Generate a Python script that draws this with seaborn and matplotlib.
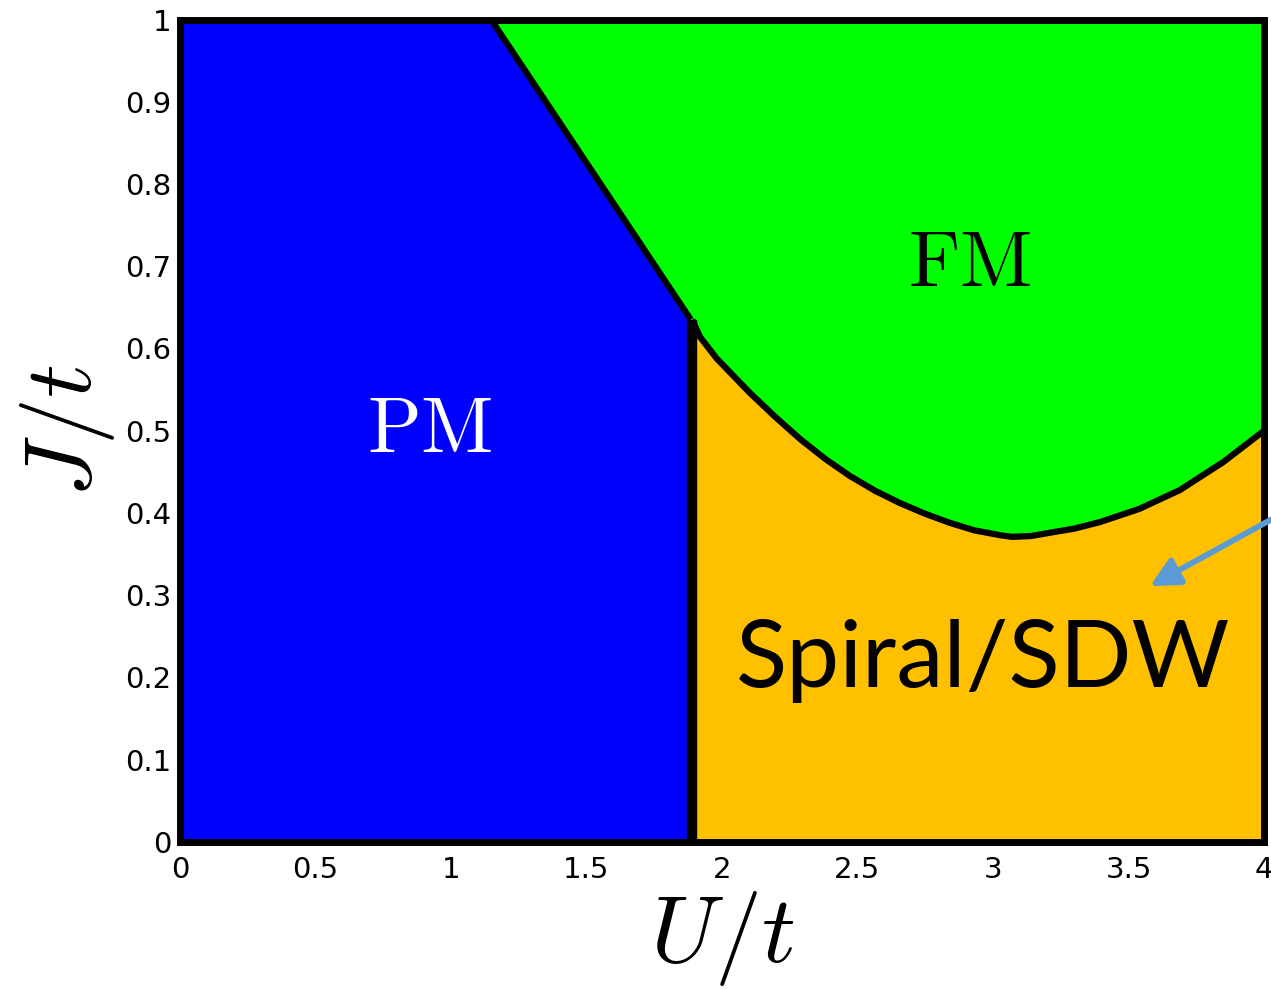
import matplotlib
matplotlib.use("Agg")
import matplotlib.pyplot as plt
import seaborn as sns
import numpy as np

# ---- data ----
pm_fm_u = [1.148, 1.885]
pm_fm_j = [1.0, 0.635]

pm_sdw_u = [1.89, 1.89]
pm_sdw_j = [0.635, 0.0]

fm_sdw_u = [1.89, 1.919, 1.98, 2.103, 2.196, 2.288, 2.38, 2.472, 2.565, 2.657, 2.75,
            2.841, 2.93, 3.026, 3.07, 3.14, 3.210, 3.30, 3.395, 3.54, 3.690, 3.85, 4.0]
fm_sdw_j = [0.635, 0.614, 0.588, 0.546, 0.517, 0.490, 0.466, 0.445, 0.427, 0.412, 0.399,
            0.388, 0.379, 0.373, 0.371, 0.372, 0.376, 0.381, 0.389, 0.405, 0.428, 0.462, 0.500]

x_ticks = [0, 0.5, 1, 1.5, 2, 2.5, 3, 3.5, 4]
x_tick_labels = ["0", "0.5", "1", "1.5", "2", "2.5", "3", "3.5", "4"]
y_ticks = [0, 0.1, 0.2, 0.3, 0.4, 0.5, 0.6, 0.7, 0.8, 0.9, 1.0]
y_tick_labels = ["0", "0.1", "0.2", "0.3", "0.4", "0.5", "0.6", "0.7", "0.8", "0.9", "1"]

phase_names = ["PM", "FM", "Spiral/SDW"]
phase_label_pos = [(0.922, 0.501), (2.915, 0.703), (2.965, 0.189)]
arrow_start = (4.026, 0.392)
arrow_tip = (3.579, 0.311)

# ---- style ----
sns.set_style("white")
plt.rcParams["mathtext.fontset"] = "cm"
plt.rcParams["font.family"] = ["DejaVu Sans"]

col_pm = "#0000FF"
col_fm = "#00FF00"
col_sdw = "#FFC000"
col_arrow = "#5B9BD5"

fig = plt.figure(figsize=(12.71, 9.90), dpi=100)
ax = fig.add_axes([0.1416, 0.1495, 0.8529, 0.8308])
ax.set_xlim(0, 4)
ax.set_ylim(0, 1)

# region polygons built from boundary arrays
pm_poly_u = [0, 0] + pm_fm_u + [pm_sdw_u[-1]]
pm_poly_j = [0, 1] + pm_fm_j + [pm_sdw_j[-1]]
ax.fill(pm_poly_u, pm_poly_j, color=col_pm, lw=0, zorder=1)

fm_poly_u = pm_fm_u[:1] + [4, 4] + fm_sdw_u[::-1] + pm_fm_u[-1:]
fm_poly_j = pm_fm_j[:1] + [1, fm_sdw_j[-1]] + fm_sdw_j[::-1] + pm_fm_j[-1:]
ax.fill(fm_poly_u, fm_poly_j, color=col_fm, lw=0, zorder=1)

sdw_poly_u = [pm_sdw_u[-1]] + fm_sdw_u + [4]
sdw_poly_j = [0] + fm_sdw_j + [0]
ax.fill(sdw_poly_u, sdw_poly_j, color=col_sdw, lw=0, zorder=1)

# boundaries
line_kw = dict(sort=False, estimator=None, color="black", ax=ax, zorder=3)
sns.lineplot(x=pm_fm_u, y=pm_fm_j, lw=4.5, **line_kw)
sns.lineplot(x=fm_sdw_u, y=fm_sdw_j, lw=4.5, **line_kw)
sns.lineplot(x=pm_sdw_u, y=pm_sdw_j, lw=7.5, **line_kw)
for l in ax.lines:
    l.set_solid_joinstyle("round")
    l.set_solid_capstyle("butt")

# labels
ax.text(*phase_label_pos[0], r"$\mathrm{%s}$" % phase_names[0], color="white", fontsize=57,
        ha="center", va="center", zorder=5)
ax.text(*phase_label_pos[1], r"$\mathrm{%s}$" % phase_names[1], color="black", fontsize=57,
        ha="center", va="center", zorder=5)
ax.text(*phase_label_pos[2], phase_names[2], color="black", fontsize=68, family=["Lato", "DejaVu Sans"],
        ha="center", va="baseline", zorder=5)

ax.annotate("", xy=arrow_tip, xytext=arrow_start, annotation_clip=False,
            arrowprops=dict(arrowstyle="-|>", color=col_arrow, lw=4.2, mutation_scale=44,
                            shrinkA=0, shrinkB=0), zorder=6)

# axes styling
for s in ax.spines.values():
    s.set_visible(True)
    s.set_linewidth(5)
    s.set_color("black")
    s.set_zorder(4)

ax.set_xticks(x_ticks)
ax.set_xticklabels(x_tick_labels)
ax.set_yticks(y_ticks)
ax.set_yticklabels(y_tick_labels)
ax.tick_params(axis="both", length=0, labelsize=21, colors="black", labelcolor="black")
ax.tick_params(axis="x", pad=10)
ax.tick_params(axis="y", pad=6)

ax.set_xlabel(r"$U/t$", fontsize=68, labelpad=4, color="black")
ax.set_ylabel(r"$J/t$", fontsize=68, labelpad=6, color="black")

fig.savefig("out.png", dpi=100)
